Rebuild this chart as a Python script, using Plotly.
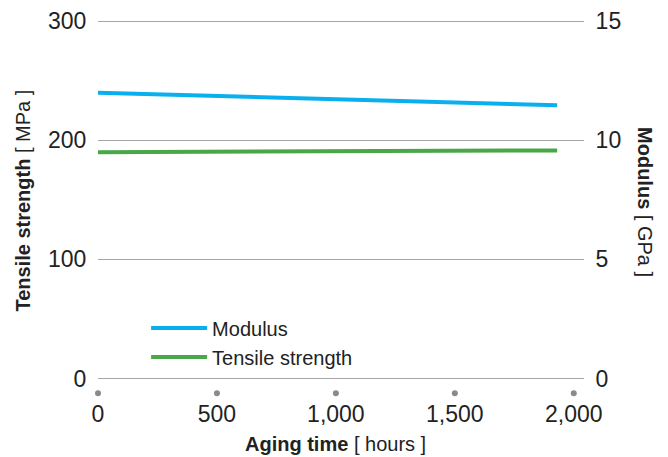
import plotly.graph_objects as go

hours = [0, 1930]
modulus_gpa = [12.0, 11.47]
tensile_mpa = [190.0, 191.5]
x_ticks = [0, 500, 1000, 1500, 2000]
x_tick_labels = ["0", "500", "1,000", "1,500", "2,000"]
left_ticks = [0, 100, 200, 300]
right_ticks = [0, 5, 10, 15]

BLUE = "#0ab0ee"
GREEN = "#4aa747"
FONT = "Liberation Sans, Arial, sans-serif"
TXT = "#222222"
DOT_OFFSET = -12.3  # vertical offset of decorative tick dots (left-axis units)

fig = go.Figure()
fig.add_trace(go.Scatter(x=hours, y=modulus_gpa, name="Modulus", mode="lines",
                         line=dict(color=BLUE, width=4), yaxis="y2"))
fig.add_trace(go.Scatter(x=hours, y=tensile_mpa, name="Tensile strength", mode="lines",
                         line=dict(color=GREEN, width=4), yaxis="y"))
# decorative dots under x ticks
fig.add_trace(go.Scatter(x=x_ticks, y=[DOT_OFFSET] * len(x_ticks), mode="markers",
                         marker=dict(color="#8a8a8a", size=6), showlegend=False,
                         cliponaxis=False, hoverinfo="skip"))

fig.update_layout(
    width=660, height=449,
    margin=dict(l=90, r=84, t=11, b=59, autoexpand=False),
    plot_bgcolor="white", paper_bgcolor="white",
    font=dict(family=FONT, color=TXT, size=23),
    showlegend=True,
    legend=dict(x=0.099, y=0.236, xanchor="left", yanchor="top",
                bgcolor="rgba(0,0,0,0)", font=dict(size=20, color=TXT),
                itemwidth=56, tracegroupgap=0),
    xaxis=dict(range=[0, 2043], tickvals=x_ticks, ticktext=x_tick_labels,
               showgrid=False, zeroline=False, showline=False, automargin=False,
               ticks="", ticklabelstandoff=0,
               tickfont=dict(size=23, color=TXT)),
    yaxis=dict(range=[-16.3, 301.8], tickvals=left_ticks, showgrid=True,
               gridcolor="#a6a6a6", gridwidth=1.2, zeroline=False, showline=False,
               automargin=False,
               ticks="outside", ticklen=6, tickcolor="rgba(0,0,0,0)",
               tickfont=dict(size=23, color=TXT)),
    yaxis2=dict(range=[-0.815, 15.09], tickvals=right_ticks, overlaying="y", side="right",
                showgrid=False, zeroline=False, showline=False, automargin=False,
                ticks="outside", ticklen=6, tickcolor="rgba(0,0,0,0)",
                tickfont=dict(size=23, color=TXT)),
    annotations=[
        dict(text="<b>Tensile strength</b> [ MPa ]", textangle=-90,
             xref="paper", yref="paper", x=-0.155, y=0.52,
             xanchor="center", yanchor="middle", showarrow=False,
             font=dict(size=20, color=TXT)),
        dict(text="<b>Modulus</b> [ GPa ]", textangle=90,
             xref="paper", yref="paper", x=1.1255, y=0.517,
             xanchor="center", yanchor="middle", showarrow=False,
             font=dict(size=20, color=TXT)),
        dict(text="<b>Aging time</b> [ hours ]",
             xref="paper", yref="paper", x=0.4877, y=-0.1214,
             xanchor="center", yanchor="middle", showarrow=False,
             font=dict(size=20, color=TXT)),
    ],
)

fig.write_html("out.html")
